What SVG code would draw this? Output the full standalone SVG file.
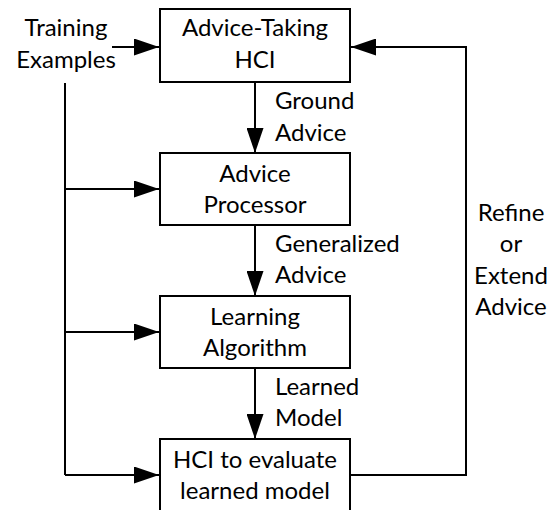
<svg xmlns="http://www.w3.org/2000/svg" width="560" height="510" viewBox="0 0 560 510">
<defs>
<marker id="ah" viewBox="0 0 25 17" refX="25" refY="8.5" markerWidth="25" markerHeight="17" markerUnits="userSpaceOnUse" orient="auto">
<path d="M0,0 L25,8.5 L0,17 Z" fill="#000"/>
</marker>
<style>
.box{fill:#fff;stroke:#000;stroke-width:2}
.t{font-family:Lato,"Liberation Sans",sans-serif;font-size:24px;fill:#000}
.c{text-anchor:middle}
.ln{fill:none;stroke:#000;stroke-width:2}
.ar{fill:none;stroke:#000;stroke-width:2;marker-end:url(#ah)}
</style>
</defs>
<rect width="560" height="510" fill="#fff"/>
<g id="connectors">
<path class="ar" d="M112,47 H159"/>
<path class="ln" d="M65,83 V475"/>
<path class="ar" d="M65,189 H159"/>
<path class="ar" d="M65,332 H159"/>
<path class="ar" d="M65,475 H159"/>
<path class="ar" d="M255,82 V153"/>
<path class="ar" d="M255,225 V296"/>
<path class="ar" d="M255,368 V439"/>
<path class="ar" d="M350,475 H466 V47 H351"/>
</g>
<g id="training-examples">
<text class="t c" x="66" y="36">Training</text>
<text class="t c" x="66" y="68">Examples</text>
</g>
<g id="advice-taking-hci">
<rect class="box" x="160" y="9" width="190" height="73"/>
<text class="t c" x="255" y="36">Advice-Taking</text>
<text class="t c" x="255" y="68">HCI</text>
</g>
<g id="advice-processor">
<rect class="box" x="160" y="153" width="190" height="72"/>
<text class="t c" x="255" y="182">Advice</text>
<text class="t c" x="255" y="213">Processor</text>
</g>
<g id="learning-algorithm">
<rect class="box" x="160" y="296" width="190" height="72"/>
<text class="t c" x="255" y="325">Learning</text>
<text class="t c" x="255" y="356">Algorithm</text>
</g>
<g id="hci-evaluate">
<rect class="box" x="160" y="439" width="190" height="80"/>
<text class="t c" x="255" y="468">HCI to evaluate</text>
<text class="t c" x="255" y="499">learned model</text>
</g>
<g id="labels">
<text class="t" x="275" y="109">Ground</text>
<text class="t" x="275" y="141">Advice</text>
<text class="t" x="275" y="252">Generalized</text>
<text class="t" x="275" y="283">Advice</text>
<text class="t" x="275" y="395">Learned</text>
<text class="t" x="275" y="426">Model</text>
<text class="t c" x="511" y="221">Refine</text>
<text class="t c" x="511" y="252">or</text>
<text class="t c" x="511" y="284">Extend</text>
<text class="t c" x="511" y="315">Advice</text>
</g>
</svg>
